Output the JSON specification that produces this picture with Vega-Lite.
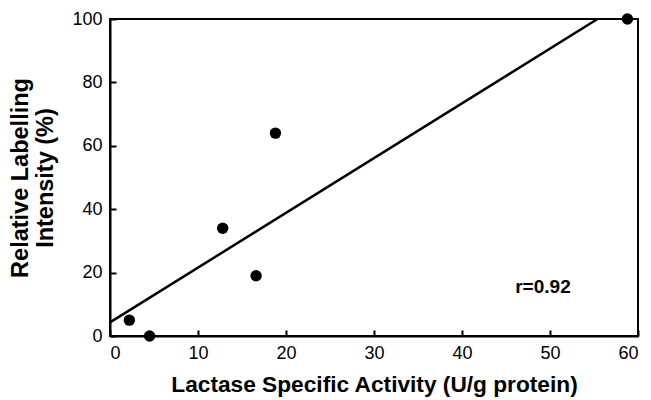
{
  "$schema": "https://vega.github.io/schema/vega-lite/v6.json",
  "width": 528,
  "height": 317,
  "autosize": "none",
  "padding": {"left": 110, "top": 19, "right": 13, "bottom": 64},
  "background": "white",
  "config": {
    "font": "Liberation Sans",
    "view": {"stroke": "black", "strokeWidth": 2},
    "axis": {"grid": false, "domainColor": "black", "domainWidth": 2, "tickColor": "black", "tickWidth": 2, "labelColor": "black", "titleColor": "black", "labelFont": "Liberation Sans", "titleFont": "Liberation Sans"}
  },
  "datasets": {
    "points": [
      {"activity": 2.2, "intensity": 5},
      {"activity": 4.5, "intensity": 0},
      {"activity": 12.8, "intensity": 34},
      {"activity": 16.6, "intensity": 19},
      {"activity": 18.8, "intensity": 64},
      {"activity": 58.8, "intensity": 100}
    ],
    "fit": [
      {"activity": 0, "intensity": 4.3},
      {"activity": 55.4, "intensity": 100}
    ],
    "note": [
      {"activity": 49.2, "intensity": 15.5, "label": "r=0.92"}
    ]
  },
  "layer": [
    {
      "data": {"name": "fit"},
      "mark": {"type": "line", "color": "black", "strokeWidth": 2.5},
      "encoding": {
        "x": {"field": "activity", "type": "quantitative", "scale": {"domain": [0, 60], "nice": false},
          "axis": {"values": [0, 10, 20, 30, 40, 50, 60], "tickSize": -6, "labelPadding": 14, "labelFontSize": 18, "title": "Lactase Specific Activity (U/g protein)", "titleFontSize": 22.7, "titleFontWeight": "bold", "titlePadding": 11}},
        "y": {"field": "intensity", "type": "quantitative", "scale": {"domain": [0, 100], "nice": false},
          "axis": {"values": [0, 20, 40, 60, 80, 100], "tickSize": -6, "labelPadding": 14, "labelFontSize": 18, "title": ["Relative Labelling", "Intensity (%)"], "titleFontSize": 23.5, "titleFontWeight": "bold", "titleLineHeight": 25, "titlePadding": 14}}
      }
    },
    {
      "data": {"name": "points"},
      "mark": {"type": "point", "filled": true, "color": "black", "opacity": 1, "size": 130},
      "encoding": {
        "x": {"field": "activity", "type": "quantitative"},
        "y": {"field": "intensity", "type": "quantitative"}
      }
    },
    {
      "data": {"name": "note"},
      "mark": {"type": "text", "fontSize": 19, "fontWeight": "bold", "color": "black", "align": "center", "baseline": "middle"},
      "encoding": {
        "x": {"field": "activity", "type": "quantitative"},
        "y": {"field": "intensity", "type": "quantitative"},
        "text": {"field": "label"}
      }
    }
  ]
}
